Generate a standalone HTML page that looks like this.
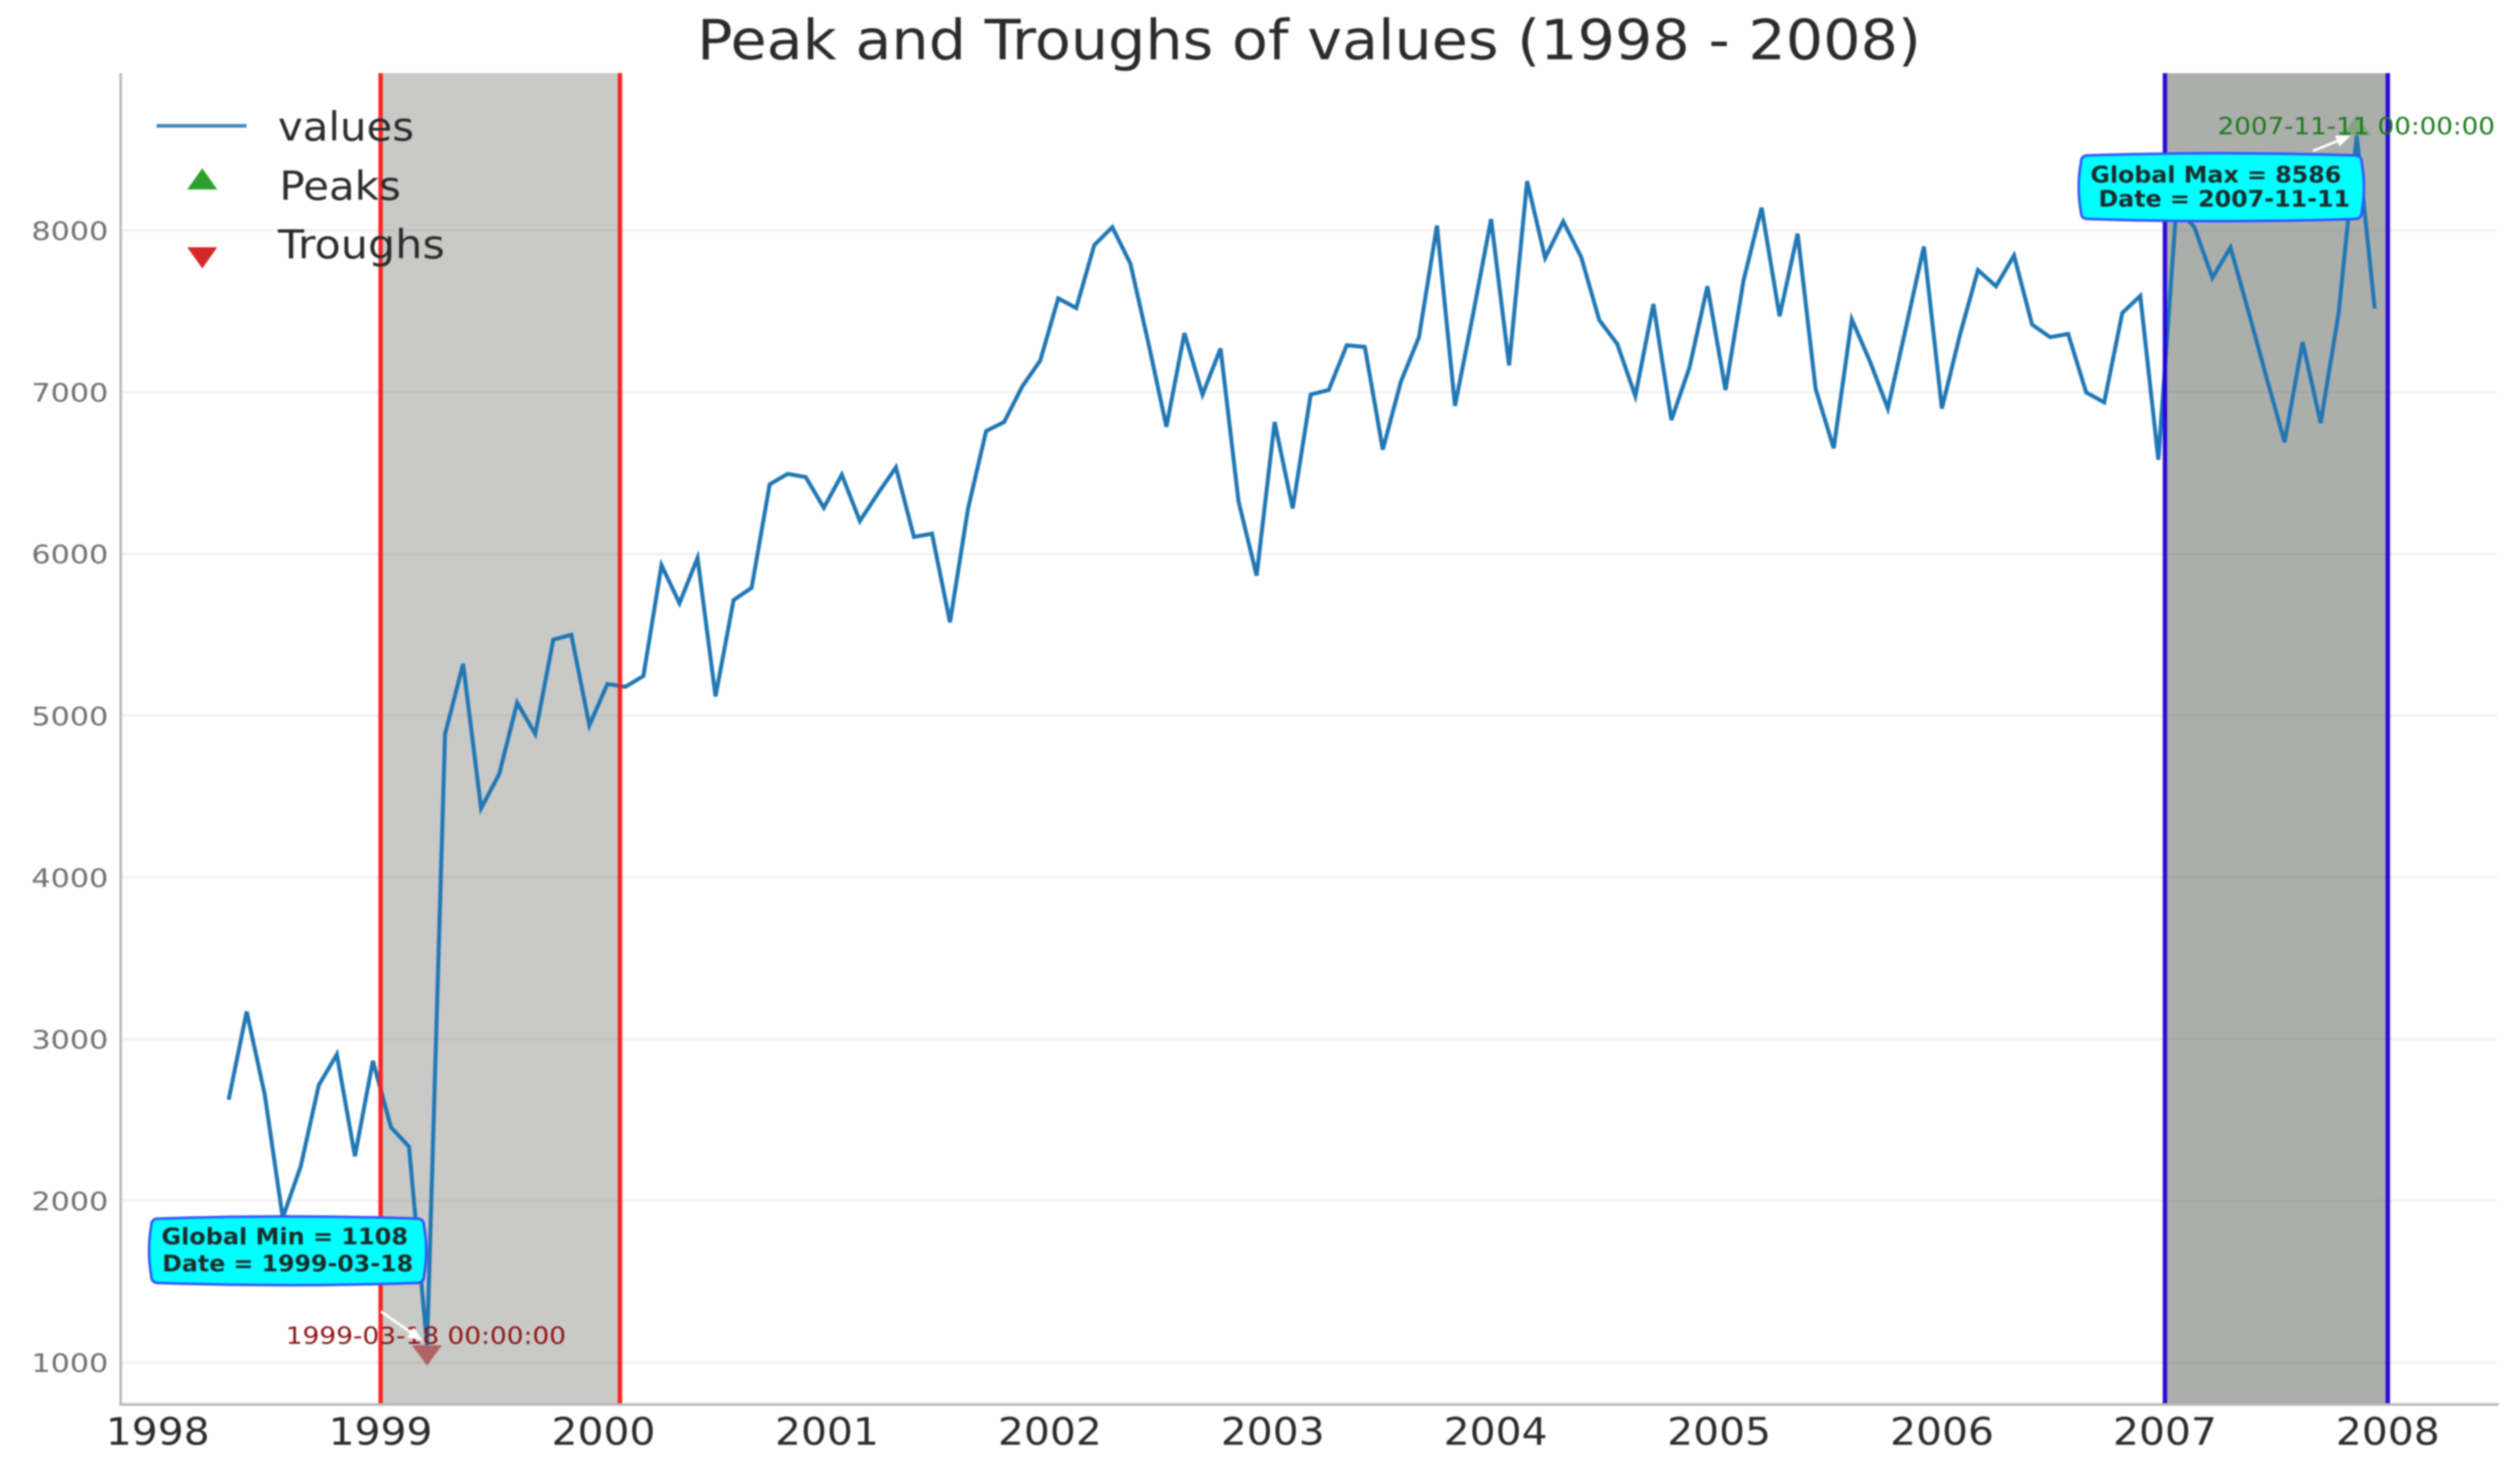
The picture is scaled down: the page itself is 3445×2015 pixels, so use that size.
<!DOCTYPE html>
<html>
<head>
<meta charset="utf-8">
<title>Peak and Troughs of values (1998 - 2008)</title>
<style>
html,body{margin:0;padding:0;background:#fff;width:3445px;height:2015px;overflow:hidden}
svg{display:block;filter:blur(1.1px)}
text{font-family:"DejaVu Sans","Liberation Sans",sans-serif}
</style>
</head>
<body>
<svg id="chart" xmlns="http://www.w3.org/2000/svg" width="3445" height="2015" viewBox="0 0 3445 2015">
  <rect x="0" y="0" width="3445" height="2015" fill="#ffffff"/>
  <text x="953" y="81" font-size="76" fill="#2b2b2b" textLength="1673" lengthAdjust="spacingAndGlyphs">Peak and Troughs of values (1998 - 2008)</text>
  <g id="grid"></g>
  <g id="bands"></g>
  <g id="series"></g>
  <g id="bandEdges"></g>
  <line x1="165" y1="100" x2="165" y2="1921" stroke="#b8b8b8" stroke-width="3.5"/>
  <line x1="163" y1="1920" x2="3416" y2="1920" stroke="#b8b8b8" stroke-width="3.5"/>
  <g id="yTicksGroup"></g>
  <g id="xTicksGroup"></g>
  <g id="annotations"></g>
  <g>
    <line x1="214" y1="172" x2="337" y2="172" stroke="#3f89bf" stroke-width="5"/>
    <text x="380" y="192" font-size="54" fill="#2b2b2b" textLength="186" lengthAdjust="spacingAndGlyphs">values</text>
    <polygon points="256,259 297,259 276.5,230" fill="#2ca02c"/>
    <text x="382" y="273" font-size="54" fill="#2b2b2b" textLength="166" lengthAdjust="spacingAndGlyphs">Peaks</text>
    <polygon points="256,338 297,338 276.5,367" fill="#d62728"/>
    <text x="380" y="353" font-size="54" fill="#2b2b2b" textLength="228" lengthAdjust="spacingAndGlyphs">Troughs</text>
  </g>
</svg>
<script>
const seriesValues = [
  2625,3170,2658,1895,2215,2715,2905,2276,2865,2455,
  2335,1108,4885,5320,4427,4638,5080,4887,5470,5500,
  4940,5196,5178,5245,5930,5695,5975,5119,5715,5790,
  6430,6495,6475,6285,6490,6203,6373,6535,6105,6125,
  5577,6281,6760,6815,7035,7195,7580,7520,7910,8020,
  7795,7305,6786,7365,6985,7270,6324,5866,6815,6281,
  6985,7014,7290,7280,6645,7065,7340,8030,6915,7480,
  8070,7166,8305,7830,8055,7835,7446,7298,6976,7545,
  6828,7152,7655,7014,7690,8140,7470,7980,7020,6653,
  7450,7193,6899,7396,7900,6899,7355,7755,7655,7845,
  7418,7340,7360,6998,6937,7490,7595,6582,8142,8020,
  7707,7895,7498,7090,6691,7310,6809,7490,8586,7516
];
const firstSampleDay = 116.17;
const sampleStepDays = 29.533;
const sampleDays = seriesValues.map(function (_, i) { return firstSampleDay + i * sampleStepDays; });

const yTickValues = [1000,2000,3000,4000,5000,6000,7000,8000];
const yTickLabels = ["1000","2000","3000","4000","5000","6000","7000","8000"];
const xTickYears = [1998,1999,2000,2001,2002,2003,2004,2005,2006,2007,2008];
const xTickLabels = ["1998","1999","2000","2001","2002","2003","2004","2005","2006","2007","2008"];

const bandStarts = ["1999-01-01","2007-01-01"];
const bandEnds = ["2000-01-28","2008-01-01"];

const minDate = "1999-03-18";
const minValue = 1108;
const maxDate = "2007-11-11";
const maxValue = 8586;

function dayOf(iso) {
  return (Date.parse(iso + "T00:00:00Z") - Date.UTC(1998, 0, 1)) / 86400000;
}
function xScale(day) { return 215.6 + 0.8348 * day; }
function yScale(v) { return 1862.7 - (v - 1000) * 0.2211; }

const NS = "http://www.w3.org/2000/svg";
function make(tag, attrs, parent, txt) {
  const el = document.createElementNS(NS, tag);
  for (const k in attrs) el.setAttribute(k, attrs[k]);
  if (txt !== undefined) el.textContent = txt;
  parent.appendChild(el);
  return el;
}

const gridGroup = document.getElementById("grid");
const yGroup = document.getElementById("yTicksGroup");
yTickValues.forEach(function (v, i) {
  const y = yScale(v);
  const g = make("line", {x1: 165, x2: 3413, y1: y, y2: y, stroke: "#f0f0f0", "stroke-width": 3}, gridGroup);
  
  
  const t = make("text", {x: 43, y: y + 13, "font-size": 35, fill: "#6f6f6f", textLength: 105, lengthAdjust: "spacingAndGlyphs"}, yGroup, yTickLabels[i]);
  
  
});

const xGroup = document.getElementById("xTicksGroup");
xTickYears.forEach(function (yr, i) {
  const x = xScale(dayOf(yr + "-01-01"));
  const t = make("text", {x: x - 71, y: 1975, "font-size": 52, fill: "#2b2b2b", textLength: 142, lengthAdjust: "spacingAndGlyphs"}, xGroup, xTickLabels[i]);
  
  
});

const bandColors = ["#777772", "#5a5e59"];
const bandOpacity = [0.4, 0.5];
const edgeColors = ["#ff1a1a", "#2200dd"];
const bandsGroup = document.getElementById("bands");
const edgeGroup = document.getElementById("bandEdges");
bandStarts.forEach(function (s, i) {
  const x0 = xScale(dayOf(s));
  const x1 = xScale(dayOf(bandEnds[i]));
  const r = make("rect", {x: x0, y: 100, width: x1 - x0, height: 1820, fill: bandColors[i], opacity: bandOpacity[i]}, bandsGroup);
  
  
  [x0, x1].forEach(function (x) {
    const l = make("line", {x1: x, x2: x, y1: 100, y2: 1920, stroke: edgeColors[i], "stroke-width": 6, opacity: 0.95}, edgeGroup);
    
    
  });
});

const seriesPoints = seriesValues.map(function (v, i) {
  return xScale(sampleDays[i]).toFixed(1) + "," + yScale(v).toFixed(1);
}).join(" ");
const seriesLine = make("polyline", {points: seriesPoints, fill: "none", stroke: "#2077b4", "stroke-width": 5.5, "stroke-linejoin": "miter"}, document.getElementById("series"));



const ann = document.getElementById("annotations");

function arrow(parent, sx, sy, tx, ty) {
  const a = Math.atan2(ty - sy, tx - sx);
  const s = make("line", {x1: sx, y1: sy, x2: tx - 8 * Math.cos(a), y2: ty - 8 * Math.sin(a), stroke: "#ffffff", "stroke-width": 3.5}, parent);
  
  
  const p = [
    [tx, ty],
    [tx - 20 * Math.cos(a) - 8 * Math.sin(a), ty - 20 * Math.sin(a) + 8 * Math.cos(a)],
    [tx - 20 * Math.cos(a) + 8 * Math.sin(a), ty - 20 * Math.sin(a) - 8 * Math.cos(a)]
  ].map(function (q) { return q[0].toFixed(1) + "," + q[1].toFixed(1); }).join(" ");
  const h = make("polygon", {points: p, fill: "#ffffff"}, parent);
  
  
}

function calloutBox(parent, px, py, dx, dy, w, h) {
  const x0 = px + dx + 3, y0 = py + dy + 3, x1 = x0 + w - 6, y1 = y0 + h - 6, r = 10, b = 6;
  const xm = (x0 + x1) / 2, ym = (y0 + y1) / 2;
  const d = "M" + (x0 + r) + " " + y0 +
    " Q" + xm + " " + (y0 - b) + " " + (x1 - r) + " " + y0 +
    " Q" + x1 + " " + y0 + " " + x1 + " " + (y0 + r) +
    " Q" + (x1 + b) + " " + ym + " " + x1 + " " + (y1 - r) +
    " Q" + x1 + " " + y1 + " " + (x1 - r) + " " + y1 +
    " Q" + xm + " " + (y1 + b) + " " + (x0 + r) + " " + y1 +
    " Q" + x0 + " " + y1 + " " + x0 + " " + (y1 - r) +
    " Q" + (x0 - b) + " " + ym + " " + x0 + " " + (y0 + r) +
    " Q" + x0 + " " + y0 + " " + (x0 + r) + " " + y0 + " Z";
  const box = make("path", {d: d, fill: "#00ffff", stroke: "#3355ff", "stroke-width": 3.5}, parent);
  
  
}

function calloutText(parent, x, y, len, str) {
  const t = make("text", {x: x, y: y, "font-size": 31, "font-weight": "bold", fill: "#1c2b2b", textLength: len, lengthAdjust: "spacingAndGlyphs"}, parent, str);
  
  
}

/* trough annotation */
const minX = xScale(dayOf(minDate));
const minY = yScale(minValue);
const troughMarker = make("polygon", {
  points: (minX - 20.5) + "," + minY + " " + (minX + 20.5) + "," + minY + " " + minX + "," + (minY + 28),
  fill: "#a8403f", opacity: 0.75
}, ann);


const minLabel = make("text", {x: minX - 193, y: minY - 2, "font-size": 32, fill: "#8e1414", textLength: 383, lengthAdjust: "spacingAndGlyphs"}, ann, minDate + " 00:00:00");


arrow(ann, minX - 63, minY - 46, minX - 6, minY - 6);
calloutBox(ann, minX, minY, -380, -176, 379, 94);
calloutText(ann, minX - 363, minY - 138, 337, "Global Min = " + minValue);
calloutText(ann, minX - 362, minY - 101, 343, "Date = " + minDate);

/* peak annotation */
const maxX = xScale(dayOf(maxDate));
const maxY = yScale(maxValue);
const peakMarker = make("polygon", {
  points: (maxX - 20.5) + "," + maxY + " " + (maxX + 20.5) + "," + maxY + " " + maxX + "," + (maxY - 28),
  fill: "#7ba27a", opacity: 0.8
}, ann);


const maxLabel = make("text", {x: maxX - 190, y: maxY - 2, "font-size": 32, fill: "#1a7a1a", textLength: 379, lengthAdjust: "spacingAndGlyphs"}, ann, maxDate + " 00:00:00");


arrow(ann, maxX - 60, maxY + 21, maxX - 8, maxY);
calloutBox(ann, maxX, maxY, -380, 24, 390, 93);
calloutText(ann, maxX - 364, maxY + 64, 343, "Global Max = " + maxValue);
calloutText(ann, maxX - 353, maxY + 97, 344, "Date = " + maxDate);
</script>
</body>
</html>
